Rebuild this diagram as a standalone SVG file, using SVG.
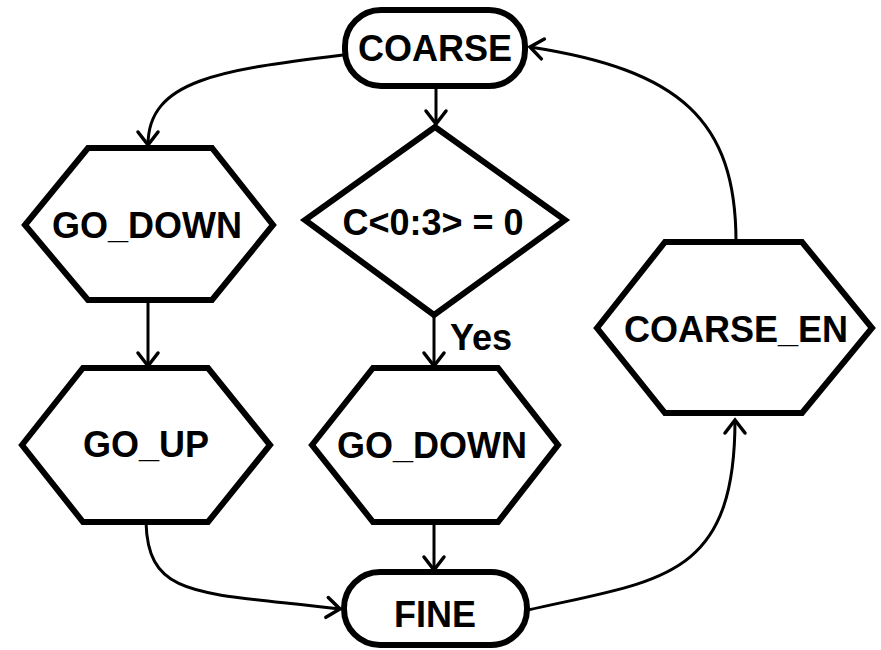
<svg xmlns="http://www.w3.org/2000/svg" width="881" height="650" viewBox="0 0 881 650">
<style>
.n{fill:#fff;stroke:#000;stroke-width:6;stroke-linejoin:miter}
.t{font-family:"Liberation Sans",Arial,sans-serif;font-weight:bold;font-size:36px;fill:#000;text-anchor:middle}
.c{fill:none;stroke:#000;stroke-width:3}
</style>
<defs>
<marker id="a" markerUnits="userSpaceOnUse" markerWidth="30" markerHeight="30" viewBox="-20 -15 30 30" refX="0" refY="0" orient="auto">
<path d="M-13,-10 L0,0 L-13,10" fill="none" stroke="#000" stroke-width="3.5" stroke-linecap="round"/>
</marker>
</defs>
<g id="connectors">
<path class="c" d="M343,55 C220,70 148,80 148,145" marker-end="url(#a)"/>
<path class="c" d="M436,87 L436,124" marker-end="url(#a)"/>
<path class="c" d="M434,315 L434,366" marker-end="url(#a)"/>
<path class="c" d="M148,300 L148,366" marker-end="url(#a)"/>
<path class="c" d="M434,522 L434,570" marker-end="url(#a)"/>
<path class="c" d="M146,522 C148,600 200,592 340,609" marker-end="url(#a)"/>
<path class="c" d="M528,610 C660,580 735,580 735,420" marker-end="url(#a)"/>
<path class="c" d="M736,242 C736,120 680,70 530,47" marker-end="url(#a)"/>
</g>
<g id="coarse">
<rect class="n" x="345" y="10" width="180" height="76" rx="36" ry="36"/>
<text class="t" x="435" y="61">COARSE</text>
</g>
<g id="go_down_left">
<polygon class="n" points="25,225 88,148 212,148 273,225 212,300 88,300"/>
<text class="t" x="147" y="238">GO_DOWN</text>
</g>
<g id="decision">
<polygon class="n" points="435,127 565,220 434,315 305,220"/>
<text class="t" x="433" y="235">C&lt;0:3&gt; = 0</text>
<text class="t" x="481" y="350">Yes</text>
</g>
<g id="go_up">
<polygon class="n" points="22,445 83,368 208,368 270,445 208,522 83,522"/>
<text class="t" x="146" y="457">GO_UP</text>
</g>
<g id="go_down_mid">
<polygon class="n" points="312,445 373,368 498,368 558,445 498,522 373,522"/>
<text class="t" x="432" y="458">GO_DOWN</text>
</g>
<g id="coarse_en">
<polygon class="n" points="597,328 665,242 802,242 872,328 802,413 665,413"/>
<text class="t" x="736" y="342">COARSE_EN</text>
</g>
<g id="fine">
<rect class="n" x="344" y="572" width="183" height="73" rx="36" ry="36"/>
<text class="t" x="435" y="627">FINE</text>
</g>
</svg>
